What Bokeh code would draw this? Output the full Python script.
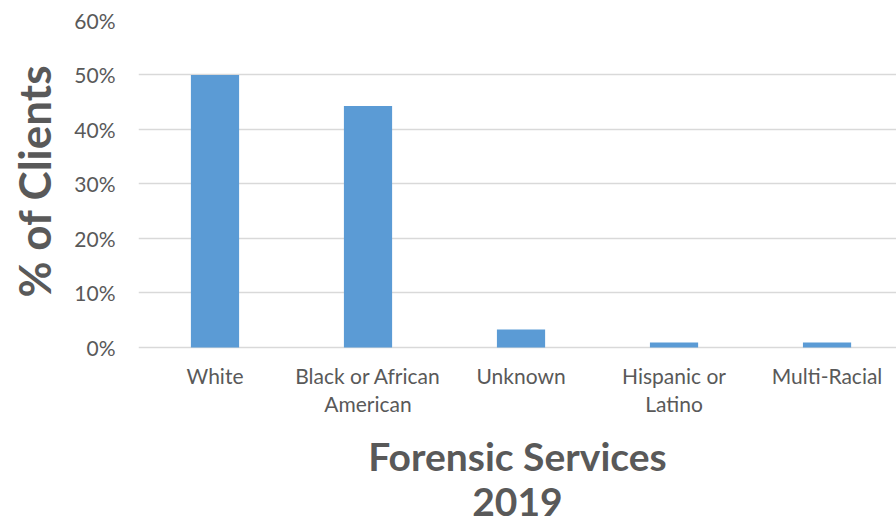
from bokeh.plotting import figure
from bokeh.models import Range1d, FixedTicker, ColumnDataSource
from bokeh.embed import file_html
from bokeh.resources import INLINE

categories = ["White", "Black or African\nAmerican", "Unknown", "Hispanic or\nLatino", "Multi-Racial"]
values = [0.50, 0.443, 0.033, 0.009, 0.009]
y_ticks = [0.0, 0.1, 0.2, 0.3, 0.4, 0.5, 0.6]
y_tick_labels = ["0%", "10%", "20%", "30%", "40%", "50%", "60%"]
x_title = "Forensic Services\n2019"
y_title = "% of Clients"

xpos = [i + 0.5 for i in range(len(categories))]
src = ColumnDataSource(dict(x=xpos, top=values))

FONT = "Lato"
GREY = "#595959"

p = figure(width=896, height=523, output_backend="svg", toolbar_location=None,
           x_range=Range1d(0, 4.954), y_range=Range1d(-0.323, 0.6),
           min_border_left=138, min_border_right=0, min_border_top=20, min_border_bottom=0)
p.outline_line_color = None
p.background_fill_color = "white"
p.border_fill_color = "white"

p.vbar(x="x", top="top", width=0.315, bottom=0, source=src, color="#5B9BD5", line_color=None)

# y axis
p.yaxis.ticker = FixedTicker(ticks=y_ticks)
p.yaxis.major_label_overrides = {t: l for t, l in zip(y_ticks, y_tick_labels)}
p.yaxis.axis_line_color = None
p.yaxis.major_tick_line_color = None
p.yaxis.minor_tick_line_color = None
p.yaxis.major_label_text_font = FONT
p.yaxis.major_label_text_font_size = "21px"
p.yaxis.major_label_text_color = GREY
p.yaxis.major_label_standoff = 17
# leading no-break spaces lift the title so it centres on the 0-60% area
p.yaxis.axis_label = "\u00a0" * 17 + y_title
p.yaxis.axis_label_text_font = FONT
p.yaxis.axis_label_text_font_size = "44px"
p.yaxis.axis_label_text_font_style = "bold"
p.yaxis.axis_label_text_color = GREY
p.yaxis.axis_label_standoff = 11

# x axis, pinned at the 0% line
xa = p.xaxis[0]
xa.fixed_location = 0
xa.ticker = FixedTicker(ticks=xpos)
xa.major_label_overrides = {x: c for x, c in zip(xpos, categories)}
xa.axis_line_color = None
xa.major_tick_line_color = None
xa.minor_tick_line_color = None
xa.major_label_text_font = FONT
xa.major_label_text_font_size = "21px"
xa.major_label_text_color = GREY
xa.major_label_text_line_height = 1.1
xa.major_label_standoff = 10
xa.axis_label = x_title
xa.axis_label_text_font = FONT
xa.axis_label_text_font_size = "39px"
xa.axis_label_text_font_style = "bold"
xa.axis_label_text_color = GREY
xa.axis_label_text_line_height = 0.98
xa.axis_label_standoff = 14

p.xgrid.grid_line_color = None
p.ygrid.ticker = FixedTicker(ticks=y_ticks)
p.ygrid.grid_line_color = "#D9D9D9"
p.ygrid.grid_line_width = 1.5

open("out.html", "w").write(file_html(p, INLINE))
